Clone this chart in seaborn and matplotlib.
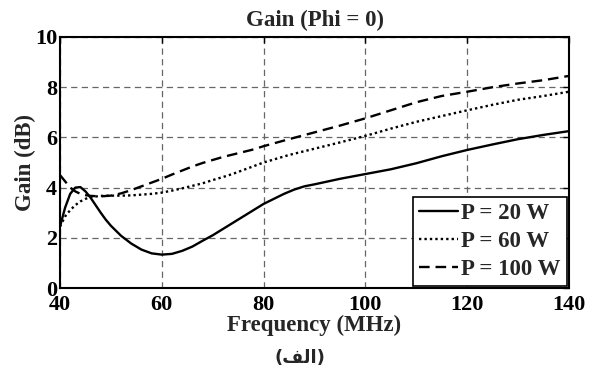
import numpy as np
import pandas as pd
import matplotlib
matplotlib.use("Agg")
import matplotlib.pyplot as plt
import seaborn as sns

# ---- data ----
freq_20 = [40, 41, 42, 43, 44, 45, 46, 47, 48, 49, 50, 52, 54, 56, 58, 60, 62, 64, 66, 68,
           70, 72, 74, 76, 78, 80, 82, 84, 86, 88, 90, 95, 100, 105, 110, 115, 120, 125,
           130, 135, 140]
gain_20 = [2.45, 3.2, 3.75, 4.0, 4.02, 3.85, 3.6, 3.3, 3.0, 2.72, 2.48, 2.08, 1.77, 1.53,
           1.38, 1.33, 1.36, 1.48, 1.65, 1.88, 2.1, 2.35, 2.6, 2.85, 3.1, 3.35, 3.55, 3.75,
           3.92, 4.05, 4.13, 4.35, 4.54, 4.73, 4.97, 5.25, 5.5, 5.72, 5.93, 6.1, 6.25]

freq_60 = [40, 41, 42, 43, 44, 45, 46, 48, 50, 52, 54, 56, 58, 60, 62, 64, 66, 68, 70, 72,
           74, 76, 78, 80, 85, 90, 95, 100, 105, 110, 115, 120, 125, 130, 135, 140]
gain_60 = [2.45, 2.85, 3.1, 3.3, 3.45, 3.55, 3.62, 3.67, 3.68, 3.68, 3.69, 3.72, 3.75, 3.8,
           3.88, 3.97, 4.07, 4.17, 4.3, 4.42, 4.55, 4.7, 4.85, 5.0, 5.3, 5.55, 5.8, 6.06,
           6.35, 6.62, 6.85, 7.08, 7.3, 7.5, 7.65, 7.82]

freq_100 = [40, 41, 42, 43, 44, 45, 46, 48, 50, 52, 54, 56, 58, 60, 62, 64, 66, 68, 70, 72,
            74, 76, 78, 80, 85, 90, 95, 100, 105, 110, 115, 120, 125, 130, 135, 140]
gain_100 = [4.5, 4.25, 4.0, 3.85, 3.75, 3.7, 3.67, 3.65, 3.68, 3.77, 3.9, 4.05, 4.2, 4.35,
            4.52, 4.68, 4.84, 4.98, 5.1, 5.22, 5.32, 5.42, 5.52, 5.65, 5.93, 6.2, 6.47,
            6.76, 7.08, 7.4, 7.65, 7.82, 8.0, 8.15, 8.28, 8.45]

series_labels = ["P = 20 W", "P = 60 W", "P = 100 W"]
x_ticks = [40, 60, 80, 100, 120, 140]
y_ticks = [0, 2, 4, 6, 8, 10]
title_text = "Gain (Phi = 0)"
xlabel_text = "Frequency (MHz)"
ylabel_text = "Gain (dB)"
caption_text = "(\uFED2\uFEDF\uFE8D)"  # (الف) in shaped visual order

sns.set_theme(style="white")
plt.rcParams['font.family'] = ['Liberation Serif', 'DejaVu Serif']
plt.rcParams['font.weight'] = 'bold'
plt.rcParams['axes.labelweight'] = 'bold'
plt.rcParams['axes.titleweight'] = 'bold'

fig = plt.figure(figsize=(5.92, 3.77), dpi=100)
ax = fig.add_axes([60 / 592, 1 - 288 / 377, (569 - 60) / 592, (288 - 37) / 377])

styles = ["-", (0, (1, 1.3)), (0, (4.5, 2.5))]
frames = [
    pd.DataFrame({"f": freq_20, "g": gain_20}),
    pd.DataFrame({"f": freq_60, "g": gain_60}),
    pd.DataFrame({"f": freq_100, "g": gain_100}),
]
for df, lab, ls in zip(frames, series_labels, styles):
    sns.lineplot(data=df, x="f", y="g", ax=ax, color="black", linewidth=1.7,
                 linestyle=ls, label=lab)

ax.set_xlim(40, 140)
ax.set_ylim(0, 10)
ax.set_xticks(x_ticks)
ax.set_yticks(y_ticks)
ax.set_xticklabels([str(v) for v in x_ticks], fontsize=16, fontweight='bold')
ax.set_yticklabels([str(v) for v in y_ticks], fontsize=16, fontweight='bold')
ax.tick_params(direction='in', length=4, width=1, top=True, right=True, pad=1,
               colors='black')
ax.tick_params(axis='x', pad=5)
ax.tick_params(axis='y', pad=2)
ax.grid(True, color='#666666', linestyle=(0, (5, 3.5)), linewidth=0.9)
for s in ax.spines.values():
    s.set_color('black')
    s.set_linewidth(1.5)

ax.set_title(title_text, fontsize=16.5, fontweight='bold', pad=8)
ax.set_xlabel(xlabel_text, fontsize=16.5, fontweight='bold', labelpad=0)
ax.set_ylabel(ylabel_text, fontsize=16.5, fontweight='bold', labelpad=-1)

leg = ax.legend(loc='lower right', handlelength=1.7, handletextpad=0.15,
                borderpad=0.25, labelspacing=0.3, borderaxespad=0.1,
                fancybox=False, framealpha=1, edgecolor='black',
                prop={'family': ['Liberation Serif'], 'weight': 'bold', 'size': 16.5})
leg.get_frame().set_linewidth(1.2)

fig.text(300 / 592, 1 - 358 / 377, caption_text, ha='center', va='center',
         fontsize=13, fontweight='bold', family=['DejaVu Sans'])

fig.savefig("out.png", dpi=100, facecolor='white')
